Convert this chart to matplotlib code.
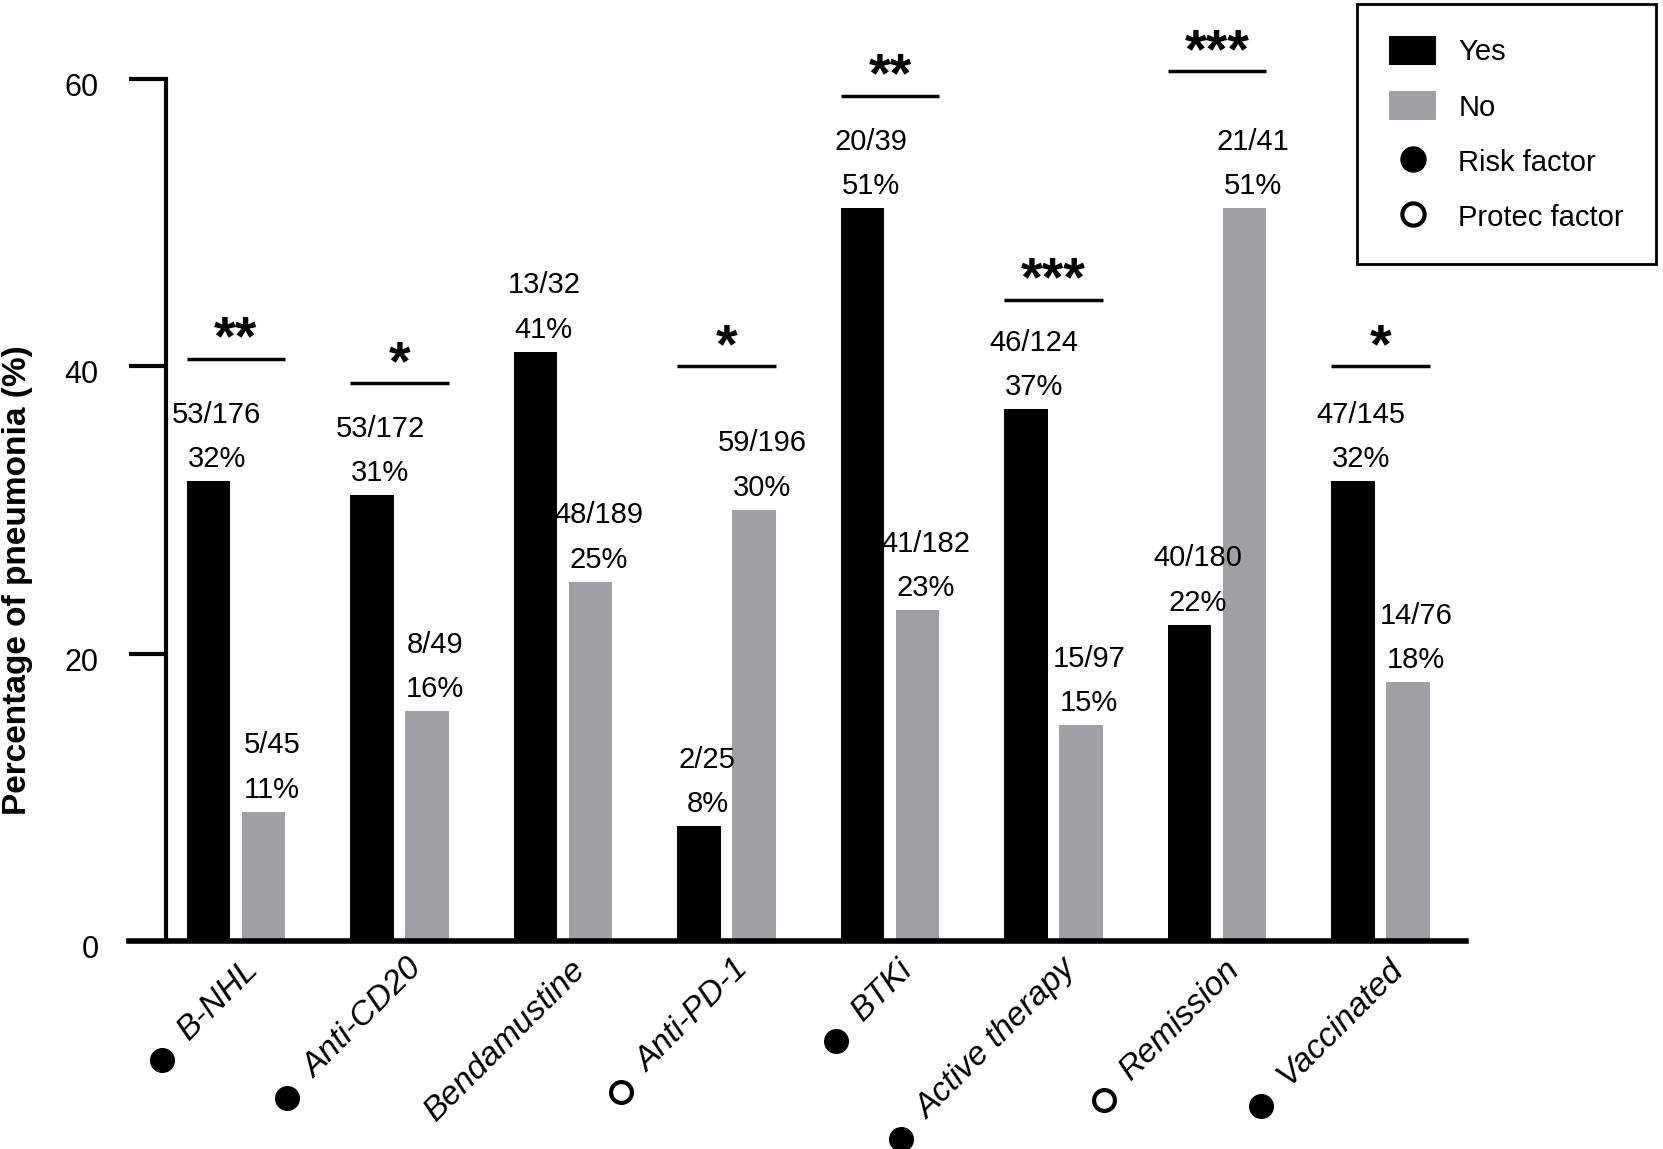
import numpy as np
import matplotlib.pyplot as plt
import matplotlib.transforms as mtransforms
from matplotlib.patches import Patch
from matplotlib.lines import Line2D

plt.rcParams['font.family'] = ['Liberation Sans', 'DejaVu Sans']

# data
categories = ['B-NHL', 'Anti-CD20', 'Bendamustine', 'Anti-PD-1', 'BTKi',
              'Active therapy', 'Remission', 'Vaccinated']
factor = ['risk', 'risk', '', 'protect', 'risk', 'risk', 'protect', 'risk']
yes_pct = [32, 31, 41, 8, 51, 37, 22, 32]
no_pct = [9, 16, 25, 30, 23, 15, 51, 18]
yes_frac = ['53/176', '53/172', '13/32', '2/25', '20/39', '46/124', '40/180', '47/145']
yes_lbl = ['32%', '31%', '41%', '8%', '51%', '37%', '22%', '32%']
no_frac = ['5/45', '8/49', '48/189', '59/196', '41/182', '15/97', '21/41', '14/76']
no_lbl = ['11%', '16%', '25%', '30%', '23%', '15%', '51%', '18%']
stars = ['**', '*', '', '*', '**', '***', '***', '*']
yticks = [0, 20, 40, 60]

# bracket heights (layout)
star_y = [40.5, 38.8, None, 40.0, 58.8, 44.6, 60.5, 40.0]

gray = '#a0a0a4'

fig = plt.figure(figsize=(16.63, 11.49), dpi=100)
ax = fig.add_axes([129/1663, 208/1149, 1337/1663, 862.5/1149])

x = np.arange(len(categories))
off = 0.168
w = 0.266
ax.bar(x - off, yes_pct, w, color='black')
ax.bar(x + off, no_pct, w, color=gray)
ax.set_xlim(-0.654, 7.523)
ax.set_ylim(0, 60)

# count / percent labels above bars
for xs, vals, fr, pc in [(x - off, yes_pct, yes_frac, yes_lbl),
                         (x + off, no_pct, no_frac, no_lbl)]:
    for xi, v, f, p in zip(xs, vals, fr, pc):
        ax.annotate(p, (xi, v), xytext=(6, 10), textcoords='offset points',
                    ha='center', va='baseline', fontsize=21)
        ax.annotate(f, (xi, v), xytext=(6, 42), textcoords='offset points',
                    ha='center', va='baseline', fontsize=21)

# significance bars
for i, (s, h) in enumerate(zip(stars, star_y)):
    if not s:
        continue
    ax.plot([i - off - w/2, i + off + w/2], [h, h], color='black', lw=2.5,
            clip_on=False, solid_capstyle='butt')
    ax.annotate(s, (i, h), xytext=(0, 3), textcoords='offset points',
                ha='center', va='baseline', fontsize=40, fontweight='bold',
                annotation_clip=False)

# axes styling
for side in ['top', 'right']:
    ax.spines[side].set_visible(False)
ax.spines['left'].set_position(('data', -0.425))
ax.spines['left'].set_linewidth(3)
ax.spines['bottom'].set_linewidth(4)
ax.set_yticks(yticks)
ax.tick_params(axis='y', length=27, width=3, pad=22, labelsize=22)
for t in ax.get_yticklabels():
    t.set_transform(t.get_transform() +
                    mtransforms.ScaledTranslation(0, -4/72, fig.dpi_scale_trans))
ax.set_xticks([])

label_texts = []
for i, lab in enumerate(categories):
    t = ax.annotate(lab, (i, 0), xytext=(5, -9), textcoords='offset points',
                    rotation=45, rotation_mode='anchor', ha='right', va='top',
                    fontsize=24, style='italic')
    label_texts.append(t)

fig.text(17.5/1663, 1 - 580/1149, 'Percentage of pneumonia (%)', rotation=90,
         ha='center', va='center', fontsize=24, fontweight='bold')

# risk / protective markers in front of the category names
fig.canvas.draw()
renderer = fig.canvas.get_renderer()
inv = ax.transData.inverted()
for t, f in zip(label_texts, factor):
    if not f:
        continue
    bb = t.get_window_extent(renderer)
    cx, cy = inv.transform((bb.x0 - 10, bb.y0 - 14))
    if f == 'risk':
        ax.plot(cx, cy, marker='o', ms=17, color='black', clip_on=False)
    else:
        ax.plot(cx, cy, marker='o', ms=15, mfc='white', mec='black', mew=3,
                clip_on=False)

handles = [Patch(facecolor='black', edgecolor='none', label='Yes'),
           Patch(facecolor=gray, edgecolor='none', label='No'),
           Line2D([], [], marker='o', ls='none', color='black', markersize=18,
                  label='Risk factor'),
           Line2D([], [], marker='o', ls='none', markerfacecolor='white',
                  markeredgecolor='black', markeredgewidth=3, markersize=16,
                  label='Protec factor')]
leg = fig.legend(handles=handles, loc='upper right',
                 bbox_to_anchor=(1656/1663, 1 - 4/1149), fontsize=21,
                 frameon=True, fancybox=False, edgecolor='black', framealpha=1,
                 borderpad=1.1, labelspacing=0.86, handlelength=1.62,
                 handleheight=1.14, handletextpad=0.75, borderaxespad=0)
leg.get_frame().set_linewidth(2)

fig.savefig('out.png', dpi=100)
